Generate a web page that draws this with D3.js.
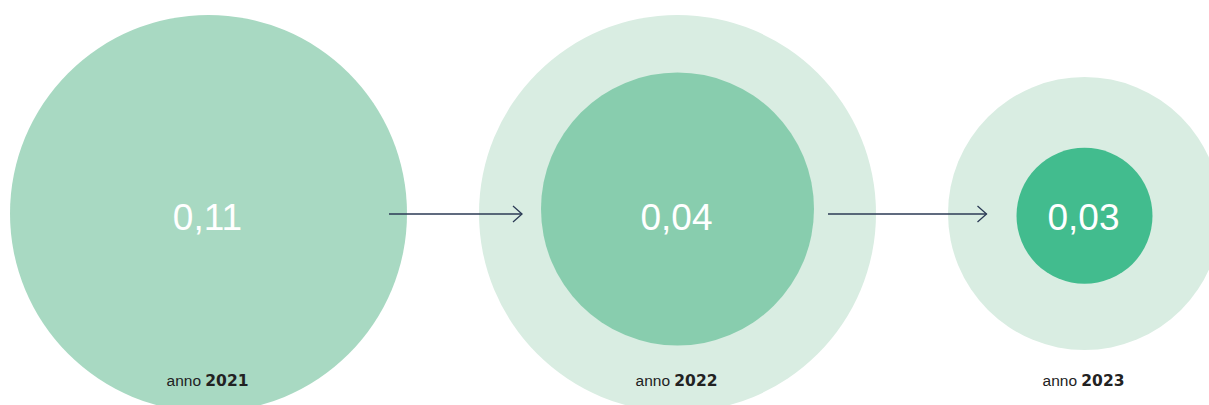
<!DOCTYPE html>
<html lang="it">
<head>
  <meta charset="UTF-8">
  <title>Bubbles</title>
  <style>
    html, body { margin: 0; padding: 0; background: #fff; }
    svg { display: block; font-family: "Liberation Sans", Arial, sans-serif; }
  </style>
</head>
<body>
  <svg id="chart"></svg>

  <script src="https://d3js.org/d3.v7.min.js"></script>
  <script>
    // dati
    var years = ['2021', '2022', '2023'];
    var values = [0.11, 0.04, 0.03];
    var valueLabels = ['0,11', '0,04', '0,03'];

    var width = 1209, height = 405;
    var startX = 10, gap = 72, rowY = 213.5;
    var innerShiftY = [0, -4.5, 2.3];

    // colori per anno
    var fills = ['#a8d9c2', '#88cdae', '#42bc8e'];
    var haloFill = '#d9ede2';

    // scala dei raggi
    var r = d3.scaleLinear()
      .domain([0.03, 0.04, 0.11])
      .range([68, 136.5, 198.5]);

    var svg = d3.select('#chart')
      .attr('width', width)
      .attr('height', height);

    // ogni anno: cerchio esterno = anno precedente
    var items = [];
    var x = startX;
    years.forEach(function (y, i) {
      var inner = r(values[i]);
      var outer = i > 0 ? r(values[i - 1]) : inner;
      var cx = x + outer;
      items.push({ year: y, value: values[i], label: valueLabels[i], cx: cx, inner: inner, outer: outer, i: i });
      x = cx + outer + gap;
    });

    var g = svg.selectAll('g.item')
      .data(items)
      .enter()
      .append('g')
      .attr('class', 'item');

    g.filter(function (d) { return d.i > 0; })
      .append('circle')
      .attr('cx', function (d) { return d.cx; })
      .attr('cy', rowY)
      .attr('r', function (d) { return d.outer; })
      .attr('fill', haloFill);

    g.append('circle')
      .attr('cx', function (d) { return d.cx; })
      .attr('cy', function (d) { return rowY + innerShiftY[d.i]; })
      .attr('r', function (d) { return d.inner; })
      .attr('fill', function (d) { return fills[d.i]; });

    g.append('text')
      .attr('x', function (d) { return d.cx - 1; })
      .attr('y', rowY + 16)
      .attr('text-anchor', 'middle')
      .attr('font-size', 37)
      .attr('fill', '#fff')
      .text(function (d) { return d.label; });

    var lab = g.append('text')
      .attr('x', function (d) { return d.cx - 1; })
      .attr('y', 386)
      .attr('text-anchor', 'middle')
      .attr('font-size', 15.5)
      .attr('fill', '#222');
    lab.append('tspan').text('anno ');
    lab.append('tspan')
      .attr('font-family', '"DejaVu Sans", sans-serif')
      .attr('font-weight', 'bold')
      .attr('font-size', 15.5)
      .text(function (d) { return d.year; });

    // frecce
    var arrowStart = [-18, 14];
    var arrowEnd = [19, 30];
    var arrows = d3.range(items.length - 1).map(function (k) {
      var a = items[k], b = items[k + 1];
      return {
        x1: a.cx + a.inner + arrowStart[k],
        x2: b.cx - b.inner - arrowEnd[k]
      };
    });

    var ag = svg.selectAll('g.arrow')
      .data(arrows)
      .enter()
      .append('g')
      .attr('class', 'arrow')
      .attr('stroke', '#2b3a55')
      .attr('stroke-width', 1.3)
      .attr('fill', 'none');

    ag.append('line')
      .attr('x1', function (d) { return d.x1; })
      .attr('x2', function (d) { return d.x2; })
      .attr('y1', 214)
      .attr('y2', 214);

    ag.append('path')
      .attr('d', function (d) {
        return 'M' + (d.x2 - 9) + ',' + (214 - 8) + 'L' + d.x2 + ',214L' + (d.x2 - 9) + ',' + (214 + 8);
      });
  </script>
</body>
</html>
